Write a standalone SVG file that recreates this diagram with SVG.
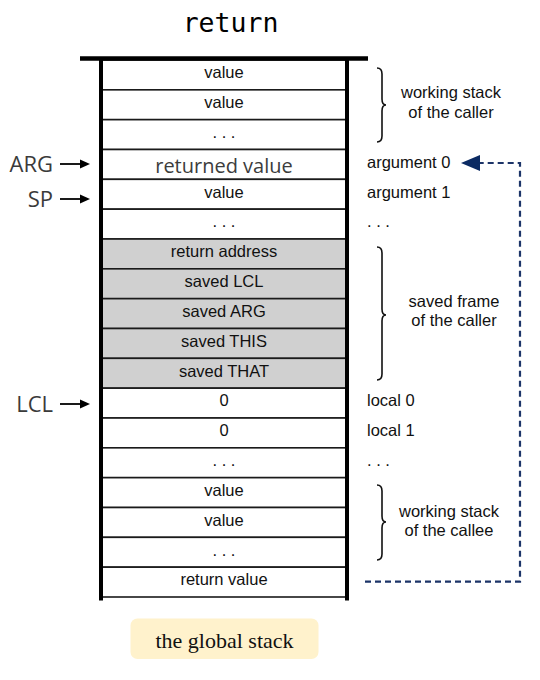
<svg xmlns="http://www.w3.org/2000/svg" width="540" height="680" viewBox="0 0 540 680">
  <defs>
    <style>
      .cell { stroke: #1a1a1a; stroke-width: 1.6; }
      .w { fill: #ffffff; }
      .g { fill: #d0d0d0; }
      .t { font-family: "Liberation Sans", Arial, sans-serif; font-size: 16.5px; fill: #111; text-anchor: middle; }
      .r { font-family: "Liberation Sans", Arial, sans-serif; font-size: 16.5px; fill: #111; }
      .big { font-family: "Open Sans", "DejaVu Sans", sans-serif; font-size: 20px; fill: #3c3c3c; text-anchor: middle; }
      .ptr { font-family: "Open Sans", "DejaVu Sans", sans-serif; font-size: 22px; fill: #3a3a3a; text-anchor: end; }
      .wall { stroke: #000; stroke-width: 4; fill: none; }
      .brace { stroke: #111; stroke-width: 1.6; fill: none; }
      .pl { stroke: #000; stroke-width: 1.8; }
      .dash { stroke: #1c3468; stroke-width: 2.2; stroke-dasharray: 6 4; fill: none; }
    </style>
  </defs>
  <rect width="540" height="680" fill="#ffffff"/>

  <text x="230.5" y="32" font-family="'DejaVu Sans Mono', 'Liberation Mono', monospace" font-size="26.5" fill="#000" text-anchor="middle">return</text>

  <g id="stack">
    <g id="cell0"><rect class="cell w" x="101" y="60" width="246" height="29.83"/><text class="t" x="224" y="78.2">value</text></g>
    <g id="cell1"><rect class="cell w" x="101" y="89.83" width="246" height="29.83"/><text class="t" x="224" y="108">value</text></g>
    <g id="cell2"><rect class="cell w" x="101" y="119.67" width="246" height="29.83"/><text class="t" x="224" y="137.9">. . .</text></g>
    <g id="cell3"><rect class="cell w" x="101" y="149.5" width="246" height="29.83"/><text class="big" x="224" y="172.5">returned value</text></g>
    <g id="cell4"><rect class="cell w" x="101" y="179.33" width="246" height="29.83"/><text class="t" x="224" y="197.5">value</text></g>
    <g id="cell5"><rect class="cell w" x="101" y="209.17" width="246" height="29.83"/><text class="t" x="224" y="227.4">. . .</text></g>
    <g id="cell6"><rect class="cell g" x="101" y="239" width="246" height="29.83"/><text class="t" x="224" y="257.2">return address</text></g>
    <g id="cell7"><rect class="cell g" x="101" y="268.83" width="246" height="29.83"/><text class="t" x="224" y="287">saved LCL</text></g>
    <g id="cell8"><rect class="cell g" x="101" y="298.67" width="246" height="29.83"/><text class="t" x="224" y="316.9">saved ARG</text></g>
    <g id="cell9"><rect class="cell g" x="101" y="328.5" width="246" height="29.83"/><text class="t" x="224" y="346.7">saved THIS</text></g>
    <g id="cell10"><rect class="cell g" x="101" y="358.33" width="246" height="29.83"/><text class="t" x="224" y="376.5">saved THAT</text></g>
    <g id="cell11"><rect class="cell w" x="101" y="388.17" width="246" height="29.83"/><text class="t" x="224" y="406.4">0</text></g>
    <g id="cell12"><rect class="cell w" x="101" y="418" width="246" height="29.83"/><text class="t" x="224" y="436.2">0</text></g>
    <g id="cell13"><rect class="cell w" x="101" y="447.83" width="246" height="29.83"/><text class="t" x="224" y="466">. . .</text></g>
    <g id="cell14"><rect class="cell w" x="101" y="477.67" width="246" height="29.83"/><text class="t" x="224" y="495.9">value</text></g>
    <g id="cell15"><rect class="cell w" x="101" y="507.5" width="246" height="29.83"/><text class="t" x="224" y="525.7">value</text></g>
    <g id="cell16"><rect class="cell w" x="101" y="537.33" width="246" height="29.83"/><text class="t" x="224" y="555.5">. . .</text></g>
    <g id="cell17"><rect class="cell w" x="101" y="567.17" width="246" height="29.83"/><text class="t" x="224" y="585.4">return value</text></g>
    <g id="walls">
      <line class="wall" x1="101" y1="58" x2="101" y2="600.5"/>
      <line class="wall" x1="347" y1="58" x2="347" y2="600.5"/>
      <line x1="80" y1="58.5" x2="368" y2="58.5" stroke="#000" stroke-width="4.5"/>
    </g>
  </g>

  <g id="labels">
    <text class="r" x="367" y="167.5">argument 0</text>
    <text class="r" x="367" y="197.5">argument 1</text>
    <text class="r" x="367" y="227.4">. . .</text>
    <text class="r" x="367" y="406.4">local 0</text>
    <text class="r" x="367" y="436.2">local 1</text>
    <text class="r" x="367" y="466">. . .</text>
  </g>

  <g id="caller-working-stack">
    <path class="brace" d="M377,68 Q382,68 382,74 L382,99 Q382,105 386,105 Q382,105 382,111 L382,136 Q382,142 377,142"/>
    <text class="t" x="451" y="97.5">working stack</text>
    <text class="t" x="451" y="117.5">of the caller</text>
  </g>
  <g id="saved-frame">
    <path class="brace" d="M377,247 Q382,247 382,253 L382,309 Q382,315 386,315 Q382,315 382,321 L382,374 Q382,380 377,380"/>
    <text class="t" x="454" y="306.5">saved frame</text>
    <text class="t" x="454" y="326">of the caller</text>
  </g>
  <g id="callee-working-stack">
    <path class="brace" d="M377,485 Q382,485 382,491 L382,516 Q382,522 386,522 Q382,522 382,528 L382,554 Q382,560 377,560"/>
    <text class="t" x="449" y="516.5">working stack</text>
    <text class="t" x="449" y="536">of the callee</text>
  </g>

  <g id="pointers">
    <g id="ARG"><text class="ptr" x="53" y="171.7">ARG</text></g>
    <g id="SP"><text class="ptr" x="53" y="206.7">SP</text></g>
    <g id="LCL"><text class="ptr" x="53" y="411.7">LCL</text></g>
  </g>

  <g id="connectors">
    <line class="pl" x1="60" y1="164" x2="82" y2="164"/>
    <polygon points="90,164 80,159.5 80,168.5" fill="#000"/>
    <line class="pl" x1="60" y1="199" x2="82" y2="199"/>
    <polygon points="90,199 80,194.5 80,203.5" fill="#000"/>
    <line class="pl" x1="60" y1="404" x2="82" y2="404"/>
    <polygon points="90,404 80,399.5 80,408.5" fill="#000"/>
    <path class="dash" d="M365,581.7 L520,581.7 L520,163 L480,163"/>
    <polygon points="461,163 480,155 480,171" fill="#0b2a63"/>
  </g>

  <g id="caption">
    <rect x="130.5" y="618.5" width="188" height="40.5" rx="7" fill="#fff2cc"/>
    <text x="224.5" y="648" font-family="'Liberation Serif', 'Times New Roman', serif" font-size="22" fill="#111" text-anchor="middle">the global stack</text>
  </g>
</svg>
